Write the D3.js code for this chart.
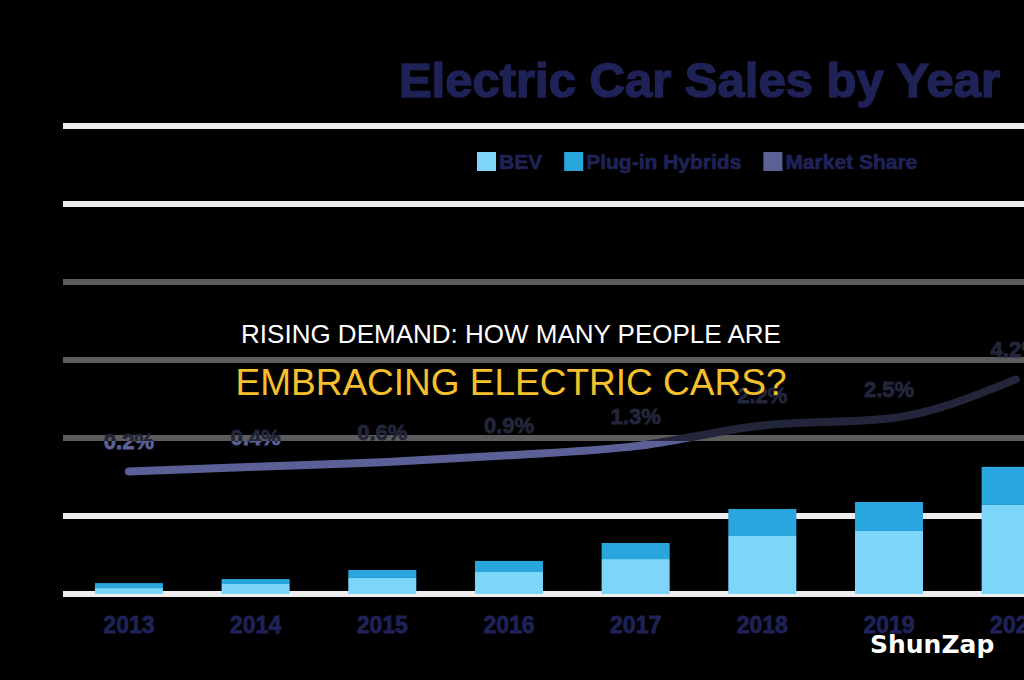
<!DOCTYPE html>
<html>
<head>
<meta charset="utf-8">
<script src="https://cdn.jsdelivr.net/npm/d3@7"></script>
<style>
  html, body { margin: 0; padding: 0; background: #000; }
  svg { display: block; }
</style>
</head>
<body>
<div id="chart"></div>
<script>
// Chart data (sales in thousands, share in %)
const years = ["2013", "2014", "2015", "2016", "2017", "2018", "2019", "2020"];
const bevSales = [38, 64, 103, 141, 224, 372, 404, 571];
const phevSales = [32, 32, 51, 71, 103, 173, 186, 244];
const marketShare = [0.2, 0.4, 0.6, 0.9, 1.3, 2.2, 2.5, 4.2];
const salesTicks = [0, 500, 1000, 1500, 2000, 2500, 3000];
const legendLabels = ["BEV", "Plug-in Hybrids", "Market Share"];

// Colours
const colors = ["#7dd6fa", "#29a6de", "#5b6196"];
const navy = "#1f2256";
const gridColor = "#eeeeee";

const width = 1024;
const height = 680;

const svg = d3.select("#chart")
  .append("svg")
  .attr("width", width)
  .attr("height", height);

svg.append("rect")
  .attr("width", width)
  .attr("height", height)
  .attr("fill", "#000");

// Scales
const x = d3.scaleBand()
  .domain(years)
  .range([65.6, 1079])
  .paddingInner(0.463)
  .paddingOuter(0.2315);

const y = d3.scaleLinear()
  .domain([0, 3000])
  .range([594, 126]);

const yShare = d3.scaleLinear()
  .domain([0, 5])
  .range([476, 361]);

// Gridlines
svg.append("g")
  .selectAll("line")
  .data(salesTicks)
  .enter()
  .append("line")
  .attr("x1", 63)
  .attr("x2", width)
  .attr("y1", d => y(d))
  .attr("y2", d => y(d))
  .attr("stroke", gridColor)
  .attr("stroke-width", 6);

// Stacked bars
const table = years.map((yr, i) => ({ year: yr, bev: bevSales[i], phev: phevSales[i] }));
const stacked = d3.stack().keys(["bev", "phev"])(table);

svg.append("g")
  .selectAll("g")
  .data(stacked)
  .enter()
  .append("g")
  .attr("fill", (d, i) => colors[i])
  .selectAll("rect")
  .data(d => d)
  .enter()
  .append("rect")
  .attr("x", d => x(d.data.year))
  .attr("y", d => y(d[1]))
  .attr("width", x.bandwidth())
  .attr("height", d => y(d[0]) - y(d[1]));

// Market share line
const cx = yr => x(yr) + x.bandwidth() / 2;

const line = d3.line()
  .x((d, i) => cx(years[i]))
  .y(d => yShare(d))
  .curve(d3.curveMonotoneX);

svg.append("path")
  .datum(marketShare)
  .attr("d", line)
  .attr("fill", "none")
  .attr("stroke", colors[2])
  .attr("stroke-width", 8)
  .attr("stroke-linecap", "round");

svg.append("g")
  .selectAll("text")
  .data(marketShare)
  .enter()
  .append("text")
  .attr("x", (d, i) => cx(years[i]))
  .attr("y", d => yShare(d) - 22)
  .attr("text-anchor", "middle")
  .attr("font-family", "Liberation Sans, Arial, sans-serif")
  .attr("font-weight", "bold")
  .attr("font-size", 22)
  .attr("fill", colors[2])
  .attr("stroke", colors[2])
  .attr("stroke-width", 0.8)
  .text(d => d.toFixed(1) + "%");

// Year axis
const xAxis = svg.append("g")
  .attr("transform", `translate(0, ${y(0)})`)
  .call(d3.axisBottom(x).tickSize(0).tickPadding(23));

xAxis.select(".domain").remove();
xAxis.selectAll("text")
  .attr("font-family", "Liberation Sans, Arial, sans-serif")
  .attr("font-weight", "bold")
  .attr("font-size", 23)
  .attr("fill", navy)
  .attr("stroke", navy)
  .attr("stroke-width", 0.8);

// Title
svg.append("text")
  .attr("x", 1000)
  .attr("y", 97)
  .attr("text-anchor", "end")
  .attr("font-family", "Liberation Sans, Arial, sans-serif")
  .attr("font-weight", "bold")
  .attr("font-size", 49)
  .attr("fill", navy)
  .attr("stroke", navy)
  .attr("stroke-width", 1.6)
  .text("Electric Car Sales by Year");

// Legend
const legend = svg.append("g");
let lx = 477;
legendLabels.forEach((label, i) => {
  legend.append("rect")
    .attr("x", lx)
    .attr("y", 152)
    .attr("width", 19)
    .attr("height", 19)
    .attr("fill", colors[i]);
  const t = legend.append("text")
    .attr("x", lx + 22)
    .attr("y", 169)
    .attr("font-family", "Liberation Sans, Arial, sans-serif")
    .attr("font-weight", "bold")
    .attr("font-size", 21)
    .attr("fill", navy)
    .attr("stroke", navy)
    .attr("stroke-width", 0.7)
    .text(label);
  lx += 22 + t.node().getComputedTextLength() + 22;
});

// Headline band over the chart
svg.append("rect")
  .attr("x", 0)
  .attr("y", 270)
  .attr("width", width)
  .attr("height", 171)
  .attr("fill", "#000")
  .attr("opacity", 0.615);

svg.append("text")
  .attr("x", 511)
  .attr("y", 343)
  .attr("text-anchor", "middle")
  .attr("font-family", "Liberation Sans, Arial, sans-serif")
  .attr("font-size", 26)
  .attr("fill", "#ffffff")
  .text("RISING DEMAND: HOW MANY PEOPLE ARE");

svg.append("text")
  .attr("x", 511)
  .attr("y", 395)
  .attr("text-anchor", "middle")
  .attr("font-family", "Liberation Sans, Arial, sans-serif")
  .attr("font-size", 37)
  .attr("fill", "#f6c02c")
  .text("EMBRACING ELECTRIC CARS?");

// Watermark
svg.append("text")
  .attr("x", 870)
  .attr("y", 653)
  .attr("font-family", "DejaVu Sans, Verdana, sans-serif")
  .attr("font-weight", "bold")
  .attr("font-size", 25)
  .attr("fill", "#ffffff")
  .text("ShunZap");
</script>
</body>
</html>
